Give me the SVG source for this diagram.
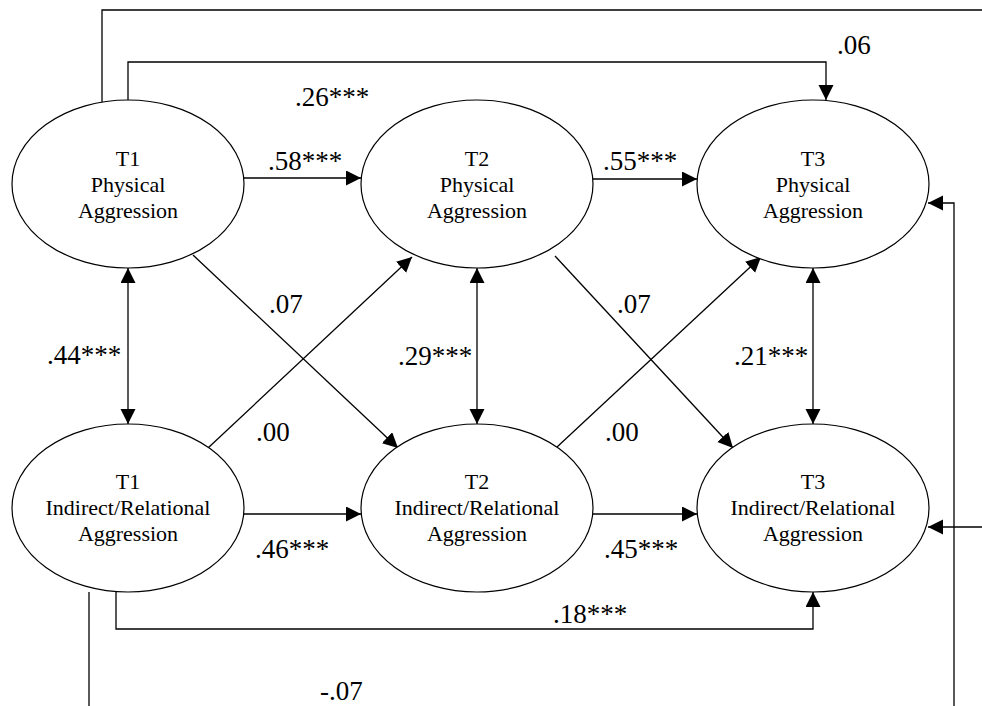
<svg xmlns="http://www.w3.org/2000/svg" width="982" height="706" viewBox="0 0 982 706">
<style>
.node ellipse{fill:#fff;stroke:#000;stroke-width:1.2}
.node text{font-family:'Liberation Serif','DejaVu Serif',serif;font-size:22px;text-anchor:middle;fill:#000}
.lab{font-family:'Liberation Serif','DejaVu Serif',serif;font-size:27px;fill:#000}
.edge{fill:none;stroke:#000;stroke-width:1.3}
.arr{marker-end:url(#ah)}
.dbl{marker-end:url(#ah);marker-start:url(#ah)}
</style>
<defs>
<marker id="ah" markerUnits="userSpaceOnUse" markerWidth="16" markerHeight="16" refX="15" refY="7.5" orient="auto-start-reverse" viewBox="0 0 16 16">
<path d="M0,0 L15,7.5 L0,15 z" fill="#000"/>
</marker>
</defs>
<rect width="982" height="706" fill="#fff"/>
<g id="connectors">
<path class="edge arr" d="M244,178 H361"/>
<path class="edge arr" d="M593,179 H697"/>
<path class="edge arr" d="M244,514 H361"/>
<path class="edge arr" d="M593,514 H697"/>
<path class="edge dbl" d="M128,268 V424"/>
<path class="edge dbl" d="M477,268 V424"/>
<path class="edge dbl" d="M813,268 V424"/>
<path class="edge arr" d="M193,255 L398,448"/>
<path class="edge arr" d="M208,448 L412,257"/>
<path class="edge arr" d="M555,256 L733,448"/>
<path class="edge arr" d="M557,447 L761,257"/>
<path class="edge" d="M102,102 V10 H982"/>
<path class="edge arr" d="M128,100 V62 H826 V100"/>
<path class="edge arr" d="M116,592 V629 H813 V592"/>
<path class="edge" d="M89,592 V706"/>
<path class="edge arr" d="M954,706 V203 H928"/>
<path class="edge arr" d="M982,527 H928"/>
</g>
<g id="labels" font-family="Liberation Serif, serif">
<text class="lab" x="295" y="106">.26***</text>
<text class="lab" x="837" y="54">.06</text>
<text class="lab" x="268" y="170">.58***</text>
<text class="lab" x="603" y="170">.55***</text>
<text class="lab" x="269" y="313">.07</text>
<text class="lab" x="617" y="313">.07</text>
<text class="lab" x="256" y="441">.00</text>
<text class="lab" x="605" y="441">.00</text>
<text class="lab" x="47" y="364">.44***</text>
<text class="lab" x="398" y="365">.29***</text>
<text class="lab" x="734" y="365">.21***</text>
<text class="lab" x="255" y="558">.46***</text>
<text class="lab" x="604" y="558">.45***</text>
<text class="lab" x="553" y="623">.18***</text>
<text class="lab" x="320" y="700">-.07</text>
</g>
<g id="t1pa" class="node">
<ellipse cx="128" cy="184" rx="116" ry="84"/>
<text x="128" y="166">T1</text><text x="128" y="192">Physical</text><text x="128" y="218">Aggression</text>
</g>
<g id="t2pa" class="node">
<ellipse cx="477" cy="184" rx="116" ry="84"/>
<text x="477" y="166">T2</text><text x="477" y="192">Physical</text><text x="477" y="218">Aggression</text>
</g>
<g id="t3pa" class="node">
<ellipse cx="813" cy="184" rx="116" ry="84"/>
<text x="813" y="166">T3</text><text x="813" y="192">Physical</text><text x="813" y="218">Aggression</text>
</g>
<g id="t1ira" class="node">
<ellipse cx="128" cy="508" rx="116" ry="84"/>
<text x="128" y="489">T1</text><text x="128" y="515">Indirect/Relational</text><text x="128" y="541">Aggression</text>
</g>
<g id="t2ira" class="node">
<ellipse cx="477" cy="508" rx="116" ry="84"/>
<text x="477" y="489">T2</text><text x="477" y="515">Indirect/Relational</text><text x="477" y="541">Aggression</text>
</g>
<g id="t3ira" class="node">
<ellipse cx="813" cy="508" rx="116" ry="84"/>
<text x="813" y="489">T3</text><text x="813" y="515">Indirect/Relational</text><text x="813" y="541">Aggression</text>
</g>
</svg>
